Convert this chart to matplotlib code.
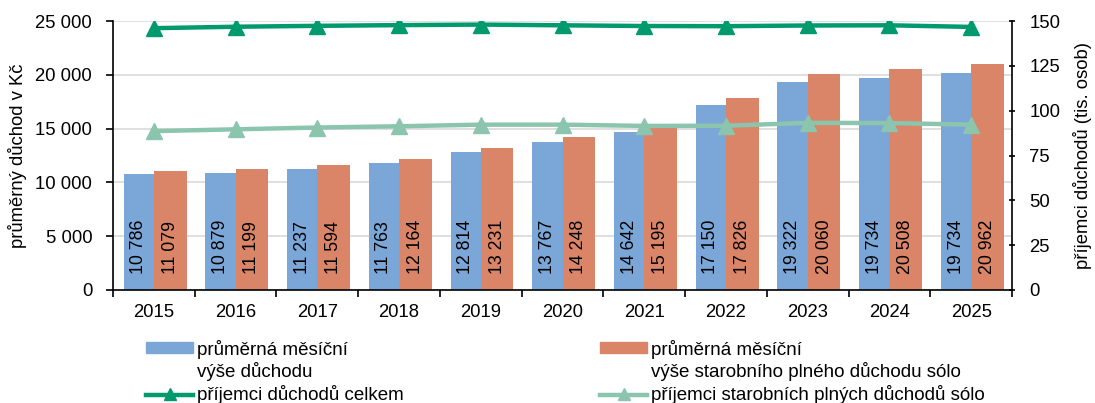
import matplotlib
matplotlib.use("Agg")
import matplotlib.pyplot as plt
import numpy as np
from matplotlib.patches import Rectangle
from matplotlib.lines import Line2D

plt.rcParams['font.family'] = ['Liberation Sans', 'DejaVu Sans']

years = ["2015", "2016", "2017", "2018", "2019", "2020", "2021", "2022", "2023", "2024", "2025"]
avg_pension = [10786, 10879, 11237, 11763, 12814, 13767, 14642, 17150, 19322, 19734, 20170]
avg_pension_labels = ["10 786", "10 879", "11 237", "11 763", "12 814", "13 767", "14 642", "17 150", "19 322", "19 734", "19 734"]
avg_oldage = [11079, 11199, 11594, 12164, 13231, 14248, 15195, 17826, 20060, 20508, 20962]
avg_oldage_labels = ["11 079", "11 199", "11 594", "12 164", "13 231", "14 248", "15 195", "17 826", "20 060", "20 508", "20 962"]
recipients_total = [146.0, 146.8, 147.3, 147.7, 148.0, 147.6, 147.2, 147.1, 147.5, 147.6, 146.7]
recipients_oldage = [88.6, 89.6, 90.6, 91.3, 92.2, 92.2, 91.5, 91.6, 93.2, 93.1, 92.2]
left_ticks = [0, 5000, 10000, 15000, 20000, 25000]
left_ticklabels = ["0", "5 000", "10 000", "15 000", "20 000", "25 000"]
right_ticks = [0, 25, 50, 75, 100, 125, 150]

c_blue = "#7BA7D8"
c_orange = "#DA8468"
c_dark = "#009A6E"
c_light = "#8CC5AE"

W, H = 1095, 403
fig = plt.figure(figsize=(W/100, H/100), dpi=100)
ax = fig.add_axes([113/W, 1-290/H, (1012-113)/W, (290-21)/H])
ax2 = ax.twinx()

x = np.arange(len(years))
wb, wo = 0.37, 0.40
ax.bar(x - wb/2, avg_pension, width=wb, color=c_blue, zorder=2)
ax.bar(x + wo/2, avg_oldage, width=wo, color=c_orange, zorder=2)
for i in range(len(years)):
    ax.text(x[i] - wb/2, 1450, avg_pension_labels[i], rotation=90, ha='center', va='bottom',
            fontsize=12.8, color='black', zorder=3)
    ax.text(x[i] + wo/2, 1450, avg_oldage_labels[i], rotation=90, ha='center', va='bottom',
            fontsize=12.8, color='black', zorder=3)

ax.set_xlim(-0.5, len(years) - 0.5)
ax.set_ylim(0, 25000)
ax.set_yticks(left_ticks)
ax.set_yticklabels(left_ticklabels, fontsize=13.3)
ax.yaxis.grid(True, color="#D9D9D9", linewidth=1.2, zorder=0)
ax.set_axisbelow(True)
ax.set_xticks(x)
ax.set_xticklabels(years, fontsize=13.3)
ax.set_xticks(np.arange(-0.5, len(years), 1.0), minor=True)
ax.tick_params(axis='x', which='major', length=0, pad=10)
ax.tick_params(axis='x', which='minor', length=5, width=1.2, direction='out')
ax.tick_params(axis='y', length=5, width=1.2, direction='out', pad=10)
ax.set_ylabel("průměrný důchod v Kč", fontsize=13.3, labelpad=6)

ax2.plot(x, recipients_total, color=c_dark, linewidth=3.2, marker='^', markersize=11, zorder=4)
ax2.plot(x, recipients_oldage, color=c_light, linewidth=3.2, marker='^', markersize=11, zorder=4)
ax2.set_ylim(0, 150)
ax2.set_yticks(right_ticks)
ax2.set_yticklabels([str(t) for t in right_ticks], fontsize=13.3)
ax2.tick_params(axis='y', length=5, width=1.2, direction='inout', pad=10)
ax2.set_ylabel("příjemci důchodů (tis. osob)", fontsize=13.3, labelpad=9)

for a in (ax, ax2):
    a.spines['top'].set_visible(False)
    for s in ('left', 'right', 'bottom'):
        a.spines[s].set_linewidth(1.2)
        a.spines[s].set_color('black')
ax.spines['right'].set_visible(False)
ax2.spines['left'].set_visible(False)
ax2.spines['bottom'].set_visible(False)

# Legend (drawn in figure pixel coordinates)
def fx(px):
    return px / W

def fy(py):
    return 1 - py / H

legend_fs = 13.5
legend_cols = [
    (146, c_blue, "průměrná měsíční\nvýše důchodu", c_dark, "příjemci důchodů celkem"),
    (600, c_orange, "průměrná měsíční\nvýše starobního plného důchodu sólo", c_light,
     "příjemci starobních plných důchodů sólo"),
]
for x0, pc, ptxt, lc, ltxt in legend_cols:
    fig.add_artist(Rectangle((fx(x0), fy(353)), fx(47), 11/H, color=pc,
                             transform=fig.transFigure))
    lines = ptxt.split("\n")
    fig.text(fx(x0 + 51), fy(355), lines[0], fontsize=legend_fs, va='baseline', ha='left')
    fig.text(fx(x0 + 51), fy(377), lines[1], fontsize=legend_fs, va='baseline', ha='left')
    fig.add_artist(Line2D([fx(x0), fx(x0 + 47)], [fy(395), fy(395)], color=lc, lw=3.2,
                          transform=fig.transFigure))
    fig.add_artist(Line2D([fx(x0 + 24)], [fy(394)], color=lc, marker='^', markersize=8,
                          linestyle='none', transform=fig.transFigure))
    fig.text(fx(x0 + 51), fy(400.5), ltxt, fontsize=legend_fs, va='baseline', ha='left')

fig.savefig("out.png", dpi=100)
